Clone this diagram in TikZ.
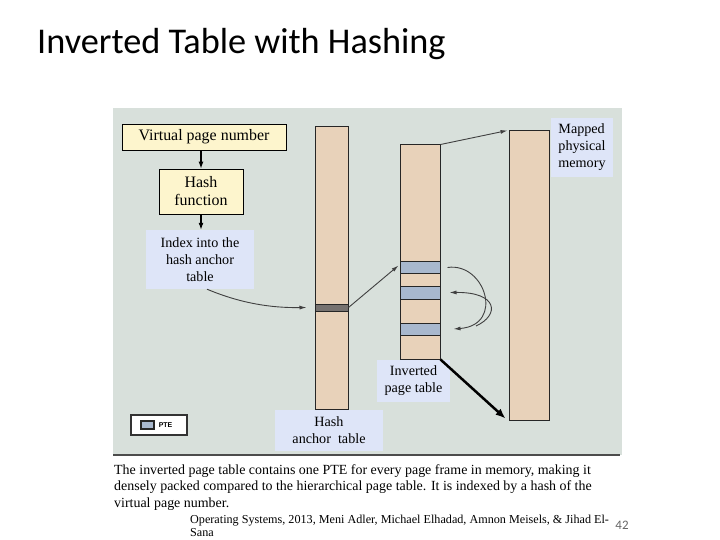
\documentclass[tikz,border=0pt]{standalone}
\usepackage{fontspec}
\setmainfont{Liberation Serif}
\newfontfamily\titlefont{Carlito}
\newfontfamily\legendfont{Liberation Sans}
\usetikzlibrary{arrows.meta,positioning}
\definecolor{panelgray}{RGB}{216,224,219}
\definecolor{tanfill}{RGB}{232,210,186}
\definecolor{pteblue}{RGB}{168,184,206}
\definecolor{boxyellow}{RGB}{253,245,205}
\definecolor{lblblue}{RGB}{222,229,248}
\definecolor{anchorgray}{RGB}{118,114,112}
\tikzset{
  yelbox/.style={draw=black, fill=boxyellow, line width=0.8bp, align=center, inner sep=0, font=\fontsize{16}{18}\selectfont},
  bluelbl/.style={fill=lblblue, align=center, inner sep=0, font=\fontsize{14.2}{17}\selectfont},
  column/.style={draw=black!85, fill=tanfill, line width=1bp, inner sep=0, minimum width=40bp},
  pte/.style={draw=black!85, fill=pteblue, line width=1bp, inner sep=0, minimum width=40bp},
  arr/.style={-{Latex[length=7bp,width=5bp]}, line width=1.1bp},
  curvarr/.style={-{Latex[length=7bp,width=4bp]}, line width=0.9bp, black!75},
}

\begin{document}
\begin{tikzpicture}[x=1bp,y=-1bp]
    \useasboundingbox (0,0) rectangle (720,540);
    \node[anchor=base west, inner sep=0, font=\titlefont\fontsize{36.4}{40}\selectfont] (title) at (37,54) {Inverted Table with Hashing};
    \fill[panelgray] (113,108) rectangle (622,455);
    \draw[black!70, line width=1.5bp] (113,455) -- (620,455);

    \node[column, minimum width=33bp, minimum height=282bp] (hat) at (331.5,268) {};
    \node[column, fill=anchorgray, minimum width=33bp, minimum height=7bp] (hatent) at (331.5,307.5) {};
    \node[column, minimum height=214bp] (ipt) at (420,252) {};
    \node[pte, minimum height=11bp] (pte1) at (420,267.5) {};
    \node[pte, minimum height=13bp] (pte2) at (420,292.5) {};
    \node[pte, minimum height=12bp] (pte3) at (420,329) {};
    \node[column, minimum height=289bp] (mem) at (529,275.5) {};

    \node[yelbox, minimum width=164bp, minimum height=26bp] (vpn) at (204,137) {Virtual page number};
    \node[yelbox, minimum width=84bp, minimum height=45bp] (hashfn) at (201,191.5) {Hash\\function};
    \node[bluelbl, minimum width=108bp, minimum height=59bp] (idx) at (200,259.5) {Index into the\\hash anchor\\table};
    \node[bluelbl, align=left, minimum width=62bp, minimum height=59bp] (memlbl) at (582,147.5) {Mapped\\physical\\memory};
    \node[bluelbl, minimum width=73bp, minimum height=42bp] (iptlbl) at (413.5,381) {Inverted\\page table};
    \node[bluelbl, minimum width=108bp, minimum height=41bp] (hatlbl) at (329,430.5) {Hash\\anchor~ table};

    \node[draw=black!80, fill=white, line width=1.5bp, minimum width=56bp, minimum height=20bp] (legend) at (159,425) {};
    \node[pte, minimum width=13bp, minimum height=8bp, line width=1.2bp] (legpte) at (147.5,425) {};
    \node[right=4bp of legpte, inner sep=0, font=\legendfont\bfseries\fontsize{7}{8}\selectfont] (legtxt) {PTE};

    \draw[arr] (hashfn.north |- vpn.south) -- (hashfn.north);
    \draw[arr] (hashfn.south) -- (hashfn.south |- idx.north);
    \draw[curvarr] ([xshift=7bp]idx.south) .. controls (240,303) and (270,308) .. ([xshift=-8bp]hatent.west);
    \draw[curvarr] (hatent.east) -- ([xshift=-1bp,yshift=2bp]pte1.west);
    \draw[curvarr] (ipt.north east) -- ([xshift=-1bp]mem.north west);
    \draw[curvarr] ([xshift=7bp]pte1.east) .. controls (485,262) and (505,325) .. ([xshift=13bp]pte3.east);
    \coordinate (loopstart) at (476,326);
    \draw[curvarr] (loopstart) .. controls (500,315) and (498,292) .. ([xshift=9bp]pte2.east);
    \draw[-{Latex[length=10bp,width=8bp]}, line width=2.5bp] (ipt.south east) -- ([xshift=-3bp,yshift=2bp]mem.south west);

    \node[anchor=north west, align=left, inner sep=0, font=\fontsize{14}{17}\selectfont] (caption) at (114,464) {The inverted page table contains one PTE for every page frame in memory, making it\\densely packed compared to the hierarchical page table. It is indexed by a hash of the\\virtual page number.};
    \node[anchor=north west, align=left, inner sep=0, font=\fontsize{12.2}{12.8}\selectfont] (footer) at (190,515) {Operating Systems, 2013, Meni Adler, Michael Elhadad, Amnon Meisels, \& Jihad El-\\Sana};
    \node[inner sep=0, text=black!60, font=\titlefont\fontsize{13}{15}\selectfont] (pagenum) at (622,525) {42};
\end{tikzpicture}
\end{document}
